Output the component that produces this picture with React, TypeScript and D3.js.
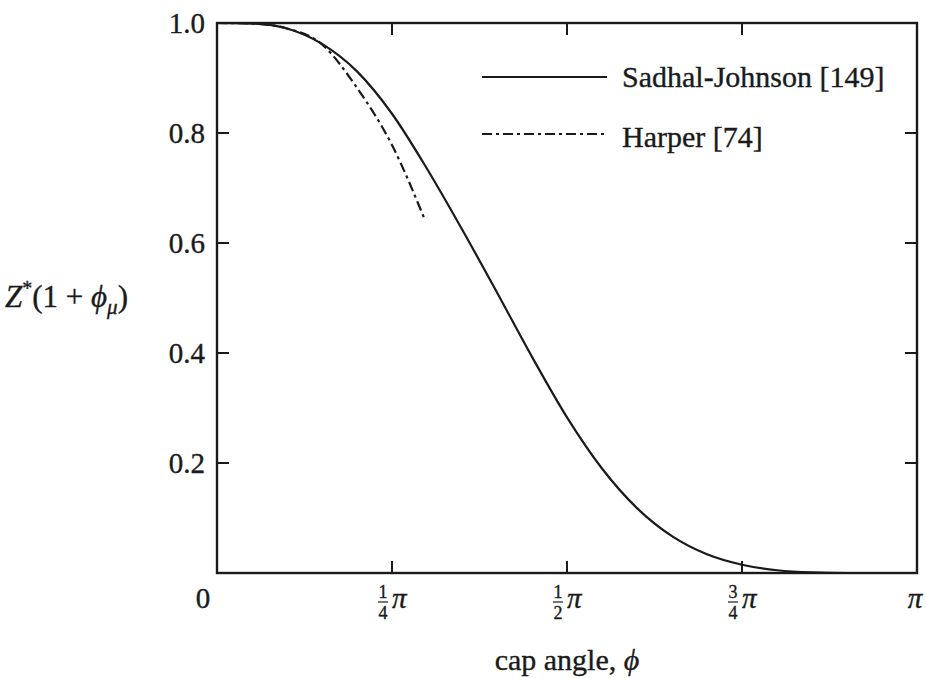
import React from "react";
import * as d3 from "d3";

// cap angle in units of pi
const sjPhi = [0, 0.05, 0.1, 0.15, 0.2, 0.25, 0.3, 0.35, 0.4, 0.45, 0.5, 0.55, 0.6, 0.65, 0.7, 0.75, 0.8, 0.85, 0.9, 1.0];
const sjVal = [1.0, 0.999, 0.99, 0.962, 0.912, 0.835, 0.735, 0.625, 0.51, 0.393, 0.283, 0.19, 0.118, 0.067, 0.034, 0.015, 0.005, 0.001, 0.0, 0.0];

const hpPhi = [0, 0.05, 0.1, 0.15, 0.2, 0.25, 0.297];
const hpVal = [1.0, 0.999, 0.99, 0.961, 0.882, 0.778, 0.642];

const yTicks = [0, 0.2, 0.4, 0.6, 0.8, 1.0];
const yTickLabels = ["", "0.2", "0.4", "0.6", "0.8", "1.0"];
const xTicks = [0, 0.25, 0.5, 0.75, 1];
const xTickNum = ["", "1", "1", "3", ""];
const xTickDen = ["", "4", "2", "4", ""];

const legendLabels = ["Sadhal-Johnson [149]", "Harper [74]"];

const W = 926, H = 678;
const L = 217, R = 917, T = 23, B = 573;
const tf: React.CSSProperties = { fontFamily: "'Liberation Serif', 'DejaVu Serif', serif" };

export default function App() {
  const x = d3.scaleLinear().domain([0, 1]).range([L, R]);
  const y = d3.scaleLinear().domain([0, 1]).range([B, T]);
  const line = d3
    .line<[number, number]>()
    .x((d) => x(d[0]))
    .y((d) => y(d[1]))
    .curve(d3.curveMonotoneX);
  const sj = line(sjPhi.map((p, i) => [p, sjVal[i]] as [number, number])) || "";
  const hp = line(hpPhi.map((p, i) => [p, hpVal[i]] as [number, number])) || "";
  const tick = 12;
  const dash = "10,4,3,4";
  const fs = 29;
  const ink = "#1a1a1a";
  const ts = { fill: ink, stroke: ink, strokeWidth: 0.35 };

  return (
    <svg
      width={W}
      height={H}
      style={{ position: "absolute", left: 0, top: 0, background: "#fff", ...tf }}
    >
      <rect x={0} y={0} width={W} height={H} fill="#fff" />
      <path d={sj} fill="none" stroke={ink} strokeWidth={2.2} />
      <path d={hp} fill="none" stroke={ink} strokeWidth={2.2} strokeDasharray={dash} />
      <rect x={L} y={T} width={R - L} height={B - T} fill="none" stroke={ink} strokeWidth={2.4} />
      {yTicks.map((v, i) => (
        <g key={"y" + i}>
          {i > 0 && i < yTicks.length - 1 && (
            <>
              <line x1={L} x2={L + tick} y1={y(v)} y2={y(v)} stroke={ink} strokeWidth={2} />
              <line x1={R} x2={R - tick} y1={y(v)} y2={y(v)} stroke={ink} strokeWidth={2} />
            </>
          )}
          <text x={205} y={y(v)} dy="0.35em" textAnchor="end" fontSize={fs} {...ts} style={tf}>
            {yTickLabels[i]}
          </text>
        </g>
      ))}
      {xTicks.map((v, i) => (
        <g key={"x" + i}>
          {i > 0 && i < xTicks.length - 1 && (
            <>
              <line x1={x(v)} x2={x(v)} y1={B} y2={B - tick} stroke={ink} strokeWidth={2} />
              <line x1={x(v)} x2={x(v)} y1={T} y2={T + tick} stroke={ink} strokeWidth={2} />
              <text x={x(v) - 9} y={598} textAnchor="middle" fontSize={18} {...ts} style={tf}>
                {xTickNum[i]}
              </text>
              <line x1={x(v) - 14} x2={x(v) - 4} y1={602} y2={602} stroke={ink} strokeWidth={1.2} />
              <text x={x(v) - 9} y={619} textAnchor="middle" fontSize={18} {...ts} style={tf}>
                {xTickDen[i]}
              </text>
              <text x={x(v)} y={608} textAnchor="start" fontSize={fs} fontStyle="italic" {...ts} style={tf}>
                π
              </text>
            </>
          )}
        </g>
      ))}
      <text x={203} y={608} textAnchor="middle" fontSize={fs} {...ts} style={tf}>0</text>
      <text x={915} y={608} textAnchor="middle" fontSize={fs} fontStyle="italic" {...ts} style={tf}>π</text>
      <text x={(L + R) / 2} y={670} textAnchor="middle" fontSize={30} {...ts} style={tf}>
        cap angle, <tspan fontStyle="italic">ϕ</tspan>
      </text>
      <text x={5} y={307} fontSize={31} {...ts} style={tf}>
        <tspan fontStyle="italic">Z</tspan>
        <tspan fontSize={20} dy={-12}>*</tspan>
        <tspan dy={12}>(1 + </tspan>
        <tspan fontStyle="italic">ϕ</tspan>
        <tspan fontStyle="italic" fontSize={21} dy={7}>μ</tspan>
        <tspan dy={-7}>)</tspan>
      </text>
      <line x1={482} x2={607} y1={77} y2={77} stroke={ink} strokeWidth={2.2} />
      <text x={622} y={87} fontSize={30} {...ts} style={tf}>{legendLabels[0]}</text>
      <line x1={482} x2={607} y1={134} y2={134} stroke={ink} strokeWidth={2.2} strokeDasharray={dash} />
      <text x={622} y={147} fontSize={30} {...ts} style={tf}>{legendLabels[1]}</text>
    </svg>
  );
}
